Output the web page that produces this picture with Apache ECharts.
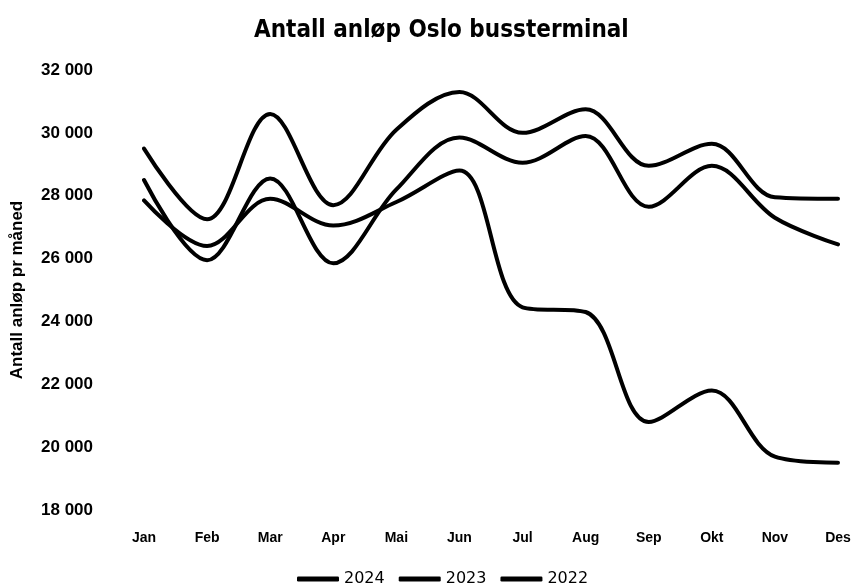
<!DOCTYPE html>
<html>
<head>
<meta charset="utf-8">
<script src="https://cdn.jsdelivr.net/npm/echarts@6/dist/echarts.min.js"></script>
<style>
  html, body { margin: 0; padding: 0; background: #fff; }
  #chart { width: 856px; height: 585px; }
</style>
</head>
<body>
<div id="chart"></div>
<script>
  const months = ['Jan', 'Feb', 'Mar', 'Apr', 'Mai', 'Jun', 'Jul', 'Aug', 'Sep', 'Okt', 'Nov', 'Des'];
  const data2024 = [27850, 26400, 27900, 27050, 27800, 28800, 24450, 24300, 20800, 21800, 19700, 19500];
  const data2023 = [28500, 25950, 28550, 25850, 28200, 29850, 29050, 29900, 27650, 28950, 27300, 26450];
  const data2022 = [29500, 27250, 30600, 27700, 30100, 31300, 30000, 30750, 28950, 29650, 27950, 27900];
  const seriesNames = ['2024', '2023', '2022'];

  const fmt = v => String(v).replace(/\B(?=(\d{3})+(?!\d))/g, ' ');

  let mychart = echarts.init(document.getElementById('chart'));
  const lineSeries = [data2024, data2023, data2022].map((d, i) => ({
    name: seriesNames[i],
    type: 'line',
    data: d,
    smooth: 0.35,
    symbol: 'none',
    lineStyle: { color: '#000', width: 4, cap: 'round' },
    itemStyle: { color: '#000' }
  }));

  const option = {
    animation: false,
    backgroundColor: '#fff',
    title: {
      text: 'Antall anløp Oslo bussterminal',
      left: 249,
      top: 14,
      textStyle: { fontFamily: 'DejaVu Sans Condensed', fontWeight: 'bold', fontSize: 24, color: '#000' }
    },
    legend: {
      top: 566,
      left: 292,
      icon: 'roundRect',
      itemWidth: 42,
      itemHeight: 5,
      itemGap: 14,
      data: seriesNames,
      textStyle: { fontFamily: 'DejaVu Sans', fontSize: 16, color: '#000' }
    },
    grid: { left: 144, right: 18, top: 70, bottom: 75, containLabel: false },
    xAxis: {
      type: 'category',
      data: months,
      boundaryGap: false,
      axisLine: { show: false },
      axisTick: { show: false },
      axisLabel: { margin: 21, color: '#000', fontWeight: 'bold', fontSize: 14, fontFamily: 'Liberation Sans' }
    },
    yAxis: {
      type: 'value',
      min: 18000,
      max: 32000,
      interval: 2000,
      splitLine: { show: false },
      axisLine: { show: false },
      axisTick: { show: false },
      axisLabel: { margin: 51, color: '#000', fontWeight: 'bold', fontSize: 17, fontFamily: 'Liberation Sans', formatter: fmt },
      name: 'Antall anløp pr måned',
      nameLocation: 'middle',
      nameGap: 118,
      nameTextStyle: { color: '#000', fontWeight: 'bold', fontSize: 17, fontFamily: 'Liberation Sans' }
    },
    series: lineSeries
  };
  mychart.setOption(option);
</script>
</body>
</html>
